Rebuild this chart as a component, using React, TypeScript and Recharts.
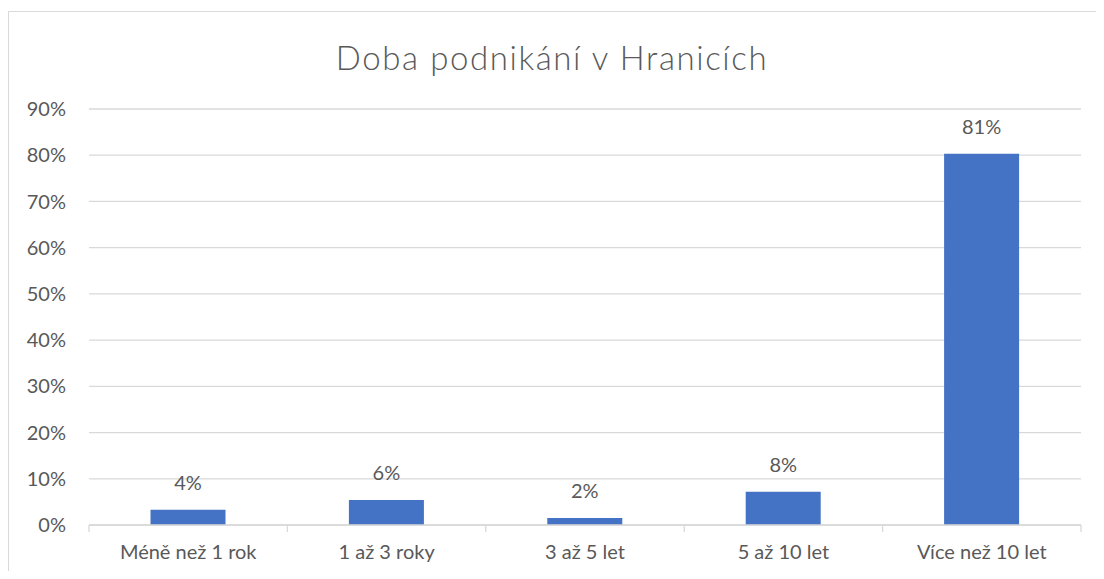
import { BarChart, Bar, XAxis, YAxis, CartesianGrid, LabelList } from 'recharts'

const categories = ['Méně než 1 rok', '1 až 3 roky', '3 až 5 let', '5 až 10 let', 'Více než 10 let']
const shares = [3.3, 5.4, 1.5, 7.2, 80.3]
const shareLabels = ['4%', '6%', '2%', '8%', '81%']
const yTicks = [0, 10, 20, 30, 40, 50, 60, 70, 80, 90]

const data = categories.map((name, i) => ({ name, value: shares[i], label: shareLabels[i] }))

const FONT = 'Lato, "Open Sans", sans-serif'
const TEXT = '#595959'
const LINE = '#D9D9D9'
const TICK_MARGIN = 19

// category label plus the short divider ticks Excel draws between categories
function CategoryTick(props: any) {
  const { x, y, payload, index } = props
  const half = payload?.offset ?? 0
  const axisY = y - TICK_MARGIN
  const last = index === categories.length - 1
  return (
    <g>
      <line x1={x - half} x2={x - half} y1={axisY} y2={axisY + 7} stroke={LINE} strokeWidth={1.3} />
      {last && <line x1={x + half} x2={x + half} y1={axisY} y2={axisY + 7} stroke={LINE} strokeWidth={1.3} />}
      <text x={x} y={y} dy="0.75em" textAnchor="middle" fill={TEXT} fontSize={20} fontFamily={FONT}>
        {payload.value}
      </text>
    </g>
  )
}

export default function App() {
  return (
    <>
      <style>{'html,body{overflow:hidden}'}</style>
      <div
        style={{
          position: 'relative',
          top: 3,
          width: 1100,
          height: 563,
          borderTop: `1px solid ${LINE}`,
          borderLeft: `1px solid ${LINE}`,
          boxSizing: 'border-box',
          overflow: 'hidden',
          fontFamily: FONT,
          background: '#fff',
        }}
      >
        <div
          style={{
            position: 'absolute',
            left: 0,
            top: 25,
            width: 1086,
            textAlign: 'center',
            fontSize: 33,
            fontWeight: 300,
            letterSpacing: 1.6,
            color: TEXT,
            lineHeight: '40px',
          }}
        >
          Doba podnikání v Hranicích
        </div>
        <BarChart
          width={1100}
          height={567}
          data={data}
          margin={{ top: 97, right: 28, bottom: 14, left: 20 }}
          barCategoryGap="31%"
        >
          <CartesianGrid horizontal vertical={false} stroke={LINE} strokeWidth={1.3} />
          <XAxis
            dataKey="name"
            axisLine={{ stroke: LINE, strokeWidth: 1.3 }}
            tickLine={false}
            tickSize={0}
            tickMargin={TICK_MARGIN}
            height={40}
            tick={<CategoryTick />}
            interval={0}
          />
          <YAxis
            domain={[0, 90]}
            ticks={yTicks}
            width={60}
            axisLine={false}
            tickLine={false}
            tickSize={0}
            tickMargin={23}
            tickFormatter={(v: number) => `${v}%`}
            tick={{ fontSize: 20, fill: TEXT, fontFamily: FONT }}
          />
          <Bar dataKey="value" fill="#4472C4" isAnimationActive={false}>
            <LabelList dataKey="label" position="top" offset={20} fill={TEXT} fontSize={20} fontFamily={FONT} />
          </Bar>
        </BarChart>
      </div>
    </>
  )
}
